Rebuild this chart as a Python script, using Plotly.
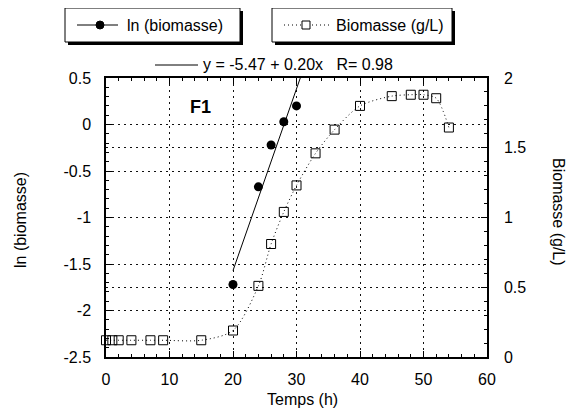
import numpy as np
import plotly.graph_objects as go

# ---- data ----
t_ln = [20, 24, 26, 28, 30]
ln_biomasse = [-1.72, -0.67, -0.22, 0.03, 0.20]

t_bio = [0, 1, 2, 4, 7, 9, 15, 20, 24, 26, 28, 30, 33, 36, 40, 45, 48, 50, 52, 54]
biomasse = [0.12, 0.12, 0.12, 0.12, 0.12, 0.12, 0.12, 0.19, 0.51, 0.81, 1.04, 1.23,
            1.46, 1.63, 1.80, 1.87, 1.88, 1.88, 1.855, 1.645]

x_ticks = [0, 10, 20, 30, 40, 50, 60]
y_ticks = [-2.5, -2, -1.5, -1, -0.5, 0, 0.5]
y_ticklabels = ["-2.5", "-2", "-1.5", "-1", "-0.5", "0", "0.5"]
y2_ticks = [0, 0.5, 1, 1.5, 2]
y2_ticklabels = ["0", "0.5", "1", "1.5", "2"]

fit_label = "y = -5.47 + 0.20x\u00a0\u00a0\u00a0R= 0.98"

# linear regression of ln(biomasse)
slope, intercept = np.polyfit(t_ln, ln_biomasse, 1)
fit_x = np.linspace(t_ln[0], t_ln[-1] + 1.0, 50)
fit_y = intercept + slope * fit_x

FONT = "Liberation Sans, Arial, Helvetica, sans-serif"
FS = 16

# page body has an 8px margin: compensate
OFF = 8
W, H = 575 - OFF, 410 - OFF
# plot area in screenshot pixels
X0, X1, Y0, Y1 = 106, 487, 78, 357


def px(x):
    return (x - X0) / (X1 - X0)


def py(y):
    return (Y1 - y) / (Y1 - Y0)


fig = go.Figure()

fig.add_trace(go.Scatter(
    x=t_bio, y=biomasse, yaxis="y2", mode="lines+markers",
    line=dict(color="black", width=1, dash="1px,3px", shape="spline", smoothing=0.8),
    marker=dict(symbol="square-open", size=9, color="black", line=dict(width=1)),
    cliponaxis=False, showlegend=False))

fig.add_trace(go.Scatter(
    x=fit_x, y=fit_y, mode="lines",
    line=dict(color="black", width=1), showlegend=False))

fig.add_trace(go.Scatter(
    x=t_ln, y=ln_biomasse, mode="markers",
    marker=dict(symbol="circle", size=9, color="black"),
    cliponaxis=False, showlegend=False))

grid = dict(showgrid=True, gridcolor="#111", gridwidth=1, griddash="2px,4px")
axis_common = dict(showline=True, linecolor="black", linewidth=1.5,
                   ticks="inside", ticklen=6, tickcolor="black", tickwidth=1,
                   tickfont=dict(family=FONT, size=FS, color="black"),
                   zeroline=False, automargin=False)

fig.update_layout(
    width=W, height=H,
    margin=dict(l=X0 - OFF, r=W - (X1 - OFF), t=Y0 - OFF, b=H - (Y1 - OFF), pad=0,
                autoexpand=False),
    paper_bgcolor="white", plot_bgcolor="white",
    font=dict(family=FONT, size=FS, color="black"),
    xaxis=dict(range=[0, 60], tickvals=x_ticks, mirror="ticks",
               minor=dict(ticks="inside", dtick=2, ticklen=3, tickcolor="black", showgrid=False),
               ticklabelstandoff=7, **grid, **axis_common),
    yaxis=dict(range=[-2.5, 0.5], tickvals=y_ticks, ticktext=y_ticklabels,
               minor=dict(ticks="inside", dtick=0.1, ticklen=3, tickcolor="black", showgrid=False),
               ticklabelstandoff=10, **grid, **axis_common),
    yaxis2=dict(range=[0, 2], overlaying="y", side="right",
                tickvals=y2_ticks, ticktext=y2_ticklabels,
                minor=dict(ticks="inside", dtick=0.1, ticklen=3, tickcolor="black", showgrid=False),
                ticklabelstandoff=12, **grid, **axis_common),
)

shapes = []
annotations = []

# legend boxes with shadows
for (a, b) in [(65, 240), (272, 452)]:
    shapes.append(dict(type="rect", xref="paper", yref="paper",
                       x0=px(a + 3), x1=px(b + 3), y0=py(45), y1=py(11),
                       fillcolor="black", line=dict(width=0)))
    shapes.append(dict(type="rect", xref="paper", yref="paper",
                       x0=px(a), x1=px(b), y0=py(42), y1=py(8),
                       fillcolor="white", line=dict(color="black", width=1)))

# legend 1 sample
shapes.append(dict(type="line", xref="paper", yref="paper",
                   x0=px(77), x1=px(118), y0=py(25), y1=py(25),
                   line=dict(color="black", width=1)))
shapes.append(dict(type="circle", xref="paper", yref="paper",
                   x0=px(96), x1=px(104), y0=py(29), y1=py(21),
                   fillcolor="black", line=dict(color="black", width=1)))
annotations.append(dict(text="ln (biomasse)", xref="paper", yref="paper",
                        x=px(125), y=py(25), xanchor="left", yanchor="middle",
                        showarrow=False, font=dict(size=FS)))

# legend 2 sample
shapes.append(dict(type="line", xref="paper", yref="paper",
                   x0=px(284), x1=px(330), y0=py(25), y1=py(25),
                   line=dict(color="black", width=1, dash="1px,3px")))
shapes.append(dict(type="rect", xref="paper", yref="paper",
                   x0=px(302), x1=px(310), y0=py(29), y1=py(21),
                   fillcolor="white", line=dict(color="black", width=1)))
annotations.append(dict(text="Biomasse (g/L)", xref="paper", yref="paper",
                        x=px(334), y=py(25), xanchor="left", yanchor="middle",
                        showarrow=False, font=dict(size=FS)))

# regression label
shapes.append(dict(type="line", xref="paper", yref="paper",
                   x0=px(155), x1=px(198), y0=py(65), y1=py(65),
                   line=dict(color="black", width=1)))
annotations.append(dict(text=fit_label, xref="paper", yref="paper",
                        x=px(201), y=py(65), xanchor="left", yanchor="middle",
                        showarrow=False, font=dict(size=FS)))

# axis titles
annotations.append(dict(text="Temps (h)", xref="paper", yref="paper",
                        x=px(302), y=py(399), xanchor="center", yanchor="middle",
                        showarrow=False, font=dict(size=FS)))
annotations.append(dict(text="ln (biomasse)", xref="paper", yref="paper",
                        x=px(21), y=py(220), xanchor="center", yanchor="middle",
                        textangle=-90, showarrow=False, font=dict(size=FS)))
annotations.append(dict(text="Biomasse (g/L)", xref="paper", yref="paper",
                        x=px(559), y=py(212), xanchor="center", yanchor="middle",
                        textangle=90, showarrow=False, font=dict(size=FS)))
annotations.append(dict(text="<b>F1</b>", xref="paper", yref="paper",
                        x=px(200), y=py(107), xanchor="center", yanchor="middle",
                        showarrow=False, font=dict(size=18)))

fig.update_layout(shapes=shapes, annotations=annotations)

fig.write_html("out.html")
